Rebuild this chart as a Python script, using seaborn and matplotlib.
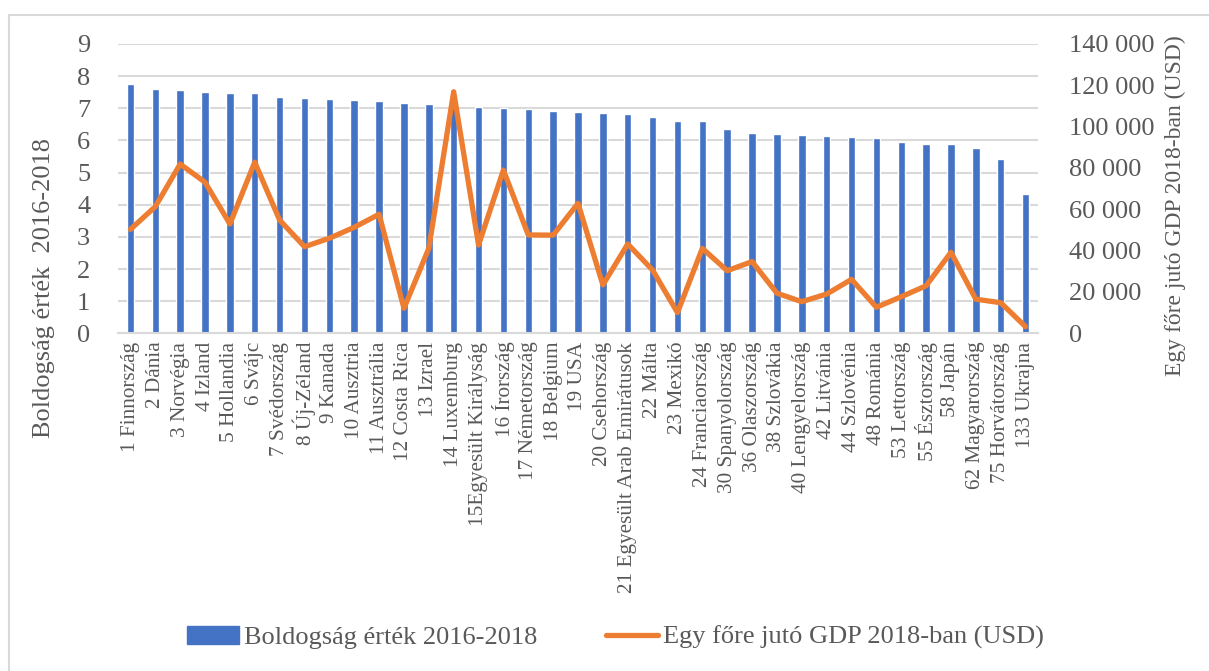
import numpy as np
import pandas as pd
import matplotlib.pyplot as plt
import seaborn as sns
from matplotlib.patches import Patch
from matplotlib.lines import Line2D

# ── DATA ─────────────────────────────────────────────────────
countries = [
    "1 Finnország", "2 Dánia", "3 Norvégia", "4 Izland", "5 Hollandia", "6 Svájc",
    "7 Svédország", "8 Új-Zéland", "9 Kanada", "10 Ausztria", "11 Ausztrália",
    "12 Costa Rica", "13 Izrael", "14 Luxemburg", "15Egyesült Királyság",
    "16 Írország", "17 Németország", "18 Belgium", "19 USA", "20 Csehország",
    "21 Egyesült Arab Emirátusok", "22 Málta", "23 Mexikó", "24 Franciaország",
    "30 Spanyolország", "36 Olaszország", "38 Szlovákia", "40 Lengyelország",
    "42 Litvánia", "44 Szlovénia", "48 Románia", "53 Lettország", "55 Észtország",
    "58 Japán", "62 Magyarország", "75 Horvátország", "133 Ukrajna",
]
happiness = [
    7.769, 7.600, 7.554, 7.494, 7.488, 7.480, 7.343, 7.307, 7.278, 7.246, 7.228,
    7.167, 7.139, 7.090, 7.054, 7.021, 6.985, 6.923, 6.892, 6.852, 6.825, 6.726,
    6.595, 6.592, 6.354, 6.223, 6.198, 6.182, 6.149, 6.118, 6.070, 5.940, 5.893,
    5.886, 5.758, 5.432, 4.332,
]
gdp = [
    50300, 61300, 81900, 73100, 52900, 82800, 54800, 41900, 46000, 51300, 57600,
    12100, 41100, 116900, 42700, 79000, 47600, 47500, 62900, 23400, 43200, 30600,
    10000, 41100, 30300, 34700, 19400, 15300, 19000, 26100, 12600, 17700, 23000,
    39200, 16500, 14800, 3200,
]
bar_label = "Boldogság érték 2016-2018"
line_label = "Egy főre jutó GDP 2018-ban (USD)"

df = pd.DataFrame({"country": countries, "happiness": happiness, "gdp": gdp})
df["pos"] = range(len(df))

# ── STYLE ────────────────────────────────────────────────────
sns.set_style("white")
plt.rcParams["font.family"] = ["Liberation Serif", "DejaVu Serif"]
TXT = "#595959"
BLUE = "#4472C4"
ORANGE = "#ED7D31"
GRID = "#D9D9D9"

fig = plt.figure(figsize=(12.09, 6.71), dpi=100)
ax = fig.add_axes([118 / 1209, 1 - 333.3 / 671, (1038 - 118) / 1209, (333.3 - 44) / 671])

# ── BARS (left axis) ─────────────────────────────────────────
sns.barplot(data=df, x="country", y="happiness", color=BLUE, width=0.3,
            saturation=1, ax=ax)
ax.set_ylim(0, 9)
ax.set_yticks(range(0, 10))
ax.set_xlim(-0.5, len(df) - 0.5)
ax.yaxis.grid(True, color=GRID, lw=1.5)
ax.set_axisbelow(True)
for s in ["top", "right", "left"]:
    ax.spines[s].set_visible(False)
ax.spines["bottom"].set_color(GRID)
ax.spines["bottom"].set_linewidth(1.5)
ax.tick_params(axis="both", length=0, colors=TXT)
ax.tick_params(axis="y", labelsize=19, pad=20)
ax.tick_params(axis="x", labelsize=15.3, pad=6)
plt.setp(ax.get_xticklabels(), rotation=90, ha="center", va="top")
ax.set_xlabel("")
ax.set_ylabel("Boldogság érték  2016-2018", fontsize=19, color=TXT)
ax.yaxis.set_label_coords(-0.069, 0.157)

# ── LINE (right axis) ────────────────────────────────────────
ax2 = ax.twinx()
sns.lineplot(data=df, x="pos", y="gdp", color=ORANGE, lw=3.8, sort=False, ax=ax2)
ax2.set_ylim(0, 140000)
ax2.set_yticks(range(0, 140001, 20000))
ax2.yaxis.set_major_formatter(plt.FuncFormatter(lambda v, _: f"{int(v):,}".replace(",", " ")))
ax2.set_xlim(-0.5, len(df) - 0.5)
for s in ax2.spines.values():
    s.set_visible(False)
ax2.tick_params(axis="y", length=0, colors=TXT, labelsize=19, pad=22)
ax2.set_xlabel("")
ax2.set_ylabel(line_label, fontsize=17, color=TXT)
ax2.yaxis.set_label_coords(1.138, 0.443)

# ── LEGEND + FRAME ───────────────────────────────────────────
handles = [Patch(color=BLUE, label=bar_label),
           Line2D([0], [0], color=ORANGE, lw=3.8, label=line_label)]
fig.legend(handles=handles, loc="center", bbox_to_anchor=(0.509, 0.05), ncol=2,
           frameon=False, fontsize=19, labelcolor=TXT, handlelength=1.97,
           handletextpad=0.2, columnspacing=2.6)

fig.add_artist(Line2D([9 / 1209, 9 / 1209], [0, 1 - 15 / 671],
                      transform=fig.transFigure, color=GRID, lw=1.5))
fig.add_artist(Line2D([9 / 1209, 1], [1 - 15 / 671, 1 - 15 / 671],
                      transform=fig.transFigure, color=GRID, lw=1.5))

fig.savefig("out.png", dpi=100)
